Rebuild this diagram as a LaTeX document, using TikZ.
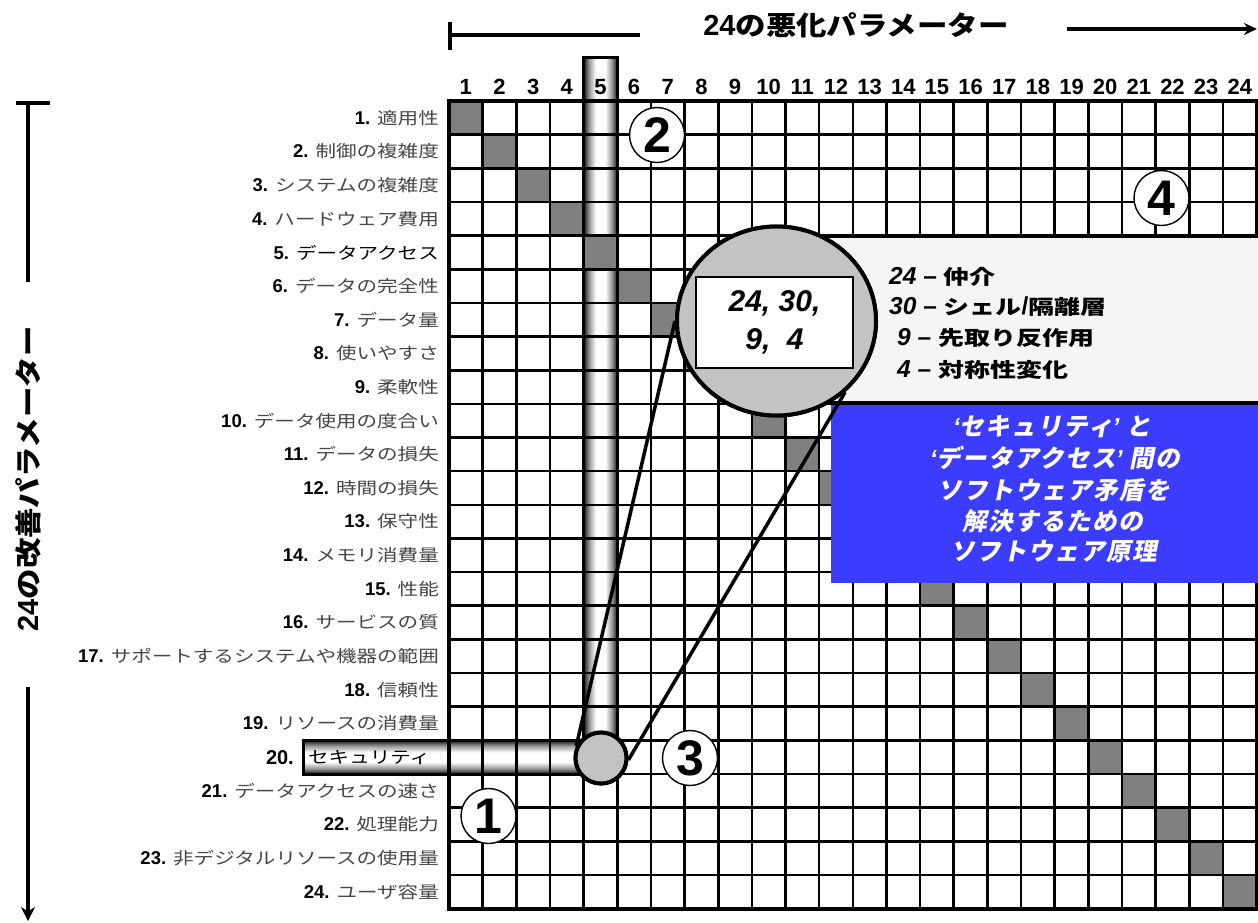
\documentclass[tikz,border=0pt]{standalone}
\usepackage{fontspec}
\setmainfont{Liberation Sans}
\newfontfamily\jp{Noto Sans CJK JP}[FakeStretch=1.23]
\newfontfamily\jpt{Noto Sans CJK JP}[FakeStretch=1.14]
\newfontfamily\jpl{Noto Sans CJK JP}[FakeStretch=1.3]
\newfontfamily\jpi{Noto Sans CJK JP}[FakeSlant=0.2,LetterSpace=6]
\usetikzlibrary{shapes.geometric,arrows.meta}
\definecolor{labgray}{RGB}{70,70,70}
\definecolor{diag}{RGB}{128,128,128}
\definecolor{halftone}{RGB}{195,195,195}
\definecolor{legendgray}{RGB}{245,245,245}
\definecolor{bluebox}{RGB}{60,60,255}
\definecolor{bardark}{RGB}{20,20,20}
\definecolor{barmid}{RGB}{150,150,150}
\pgfdeclarehorizontalshading{barshade}{100bp}{color(0bp)=(bardark); color(25bp)=(bardark); color(33bp)=(barmid); color(43bp)=(white); color(57bp)=(white); color(67bp)=(barmid); color(75bp)=(bardark); color(100bp)=(bardark)}
\newcommand{\jplab}{\fontsize{16.7}{18}\selectfont\jp}
\newcommand{\jpleg}{\fontsize{20}{22}\selectfont\jpl}
\newcommand{\jptit}{\fontsize{26.7}{28}\selectfont\jpt}
\tikzset{
  gridline/.style={line width=2.6pt},
  barline/.style={line width=3pt},
  axisline/.style={line width=4pt},
  conline/.style={line width=3.5pt},
  numcirc/.style={circle,draw,line width=1.4pt,fill=white,minimum size=55pt,inner sep=0pt,
    font=\fontsize{50}{50}\selectfont\bfseries},
  rowlab/.style={anchor=east,inner sep=0pt,font=\fontsize{18.5}{19}\selectfont},
  collab/.style={inner sep=0pt,font=\fontsize{22}{22}\selectfont\bfseries},
  legtext/.style={anchor=west,inner sep=0pt,font=\fontsize{24.5}{25}\selectfont\bfseries},
  bluetext/.style={inner sep=0pt,text=white,text height=18pt,text depth=4pt,font=\fontsize{24.5}{25}\selectfont\bfseries},
  axtitle/.style={inner sep=0pt,font=\fontsize{29}{29}\selectfont\bfseries},
}
\begin{document}
\begin{tikzpicture}[x=1pt,y=-1pt]
\useasboundingbox (0,0) rectangle (1258,922);
\fill[white] (0,0) rectangle (1258,922);
% bars (shading)
\shade[shading=barshade] (583.6,57) rectangle (617.3,758);
\shade[shading=barshade,shading angle=90] (303,740.35) rectangle (601,774);
% diagonal cells
\foreach \i in {1,...,24}
  \fill[diag] ({449+(\i-1)*33.65},{101+(\i-1)*33.65}) rectangle ++(33.65,33.65);
% grid lines
\foreach \k in {1,...,23}{
  \draw[gridline] ({449+\k*33.65},101) -- ++(0,807.6);
  \draw[gridline] (449,{101+\k*33.65}) -- ++(807.6,0);
}
\draw[line width=4pt] (449,101) rectangle (1256.6,908.6);
% bar outlines
\draw[barline] (583.6,758) -- (583.6,57) -- (617.3,57) -- (617.3,758);
\draw[barline] (601,740.35) -- (303,740.35) -- (303,774) -- (601,774);
% legend box and blue box
\fill[legendgray] (780,236) rectangle (1258,403);
\draw[line width=3.5pt] (780,236) -- (1258,236);
\draw[line width=3.5pt] (780,403) -- (1258,403);
\fill[bluebox] (831,405) rectangle (1258,583);
% magnifier
\node[circle,draw,line width=4pt,fill=halftone,minimum size=51pt,inner sep=0pt] (sc) at (601,758) {};
\node[ellipse,draw,line width=4pt,fill=halftone,minimum width=199pt,minimum height=189pt,inner sep=0pt] (bc) at (776.5,321) {};
\draw[conline] (sc.154) -- (bc.180);
\draw[conline] (sc.-4) -- (bc.-46);
\node[ellipse,draw,line width=4pt,fill=halftone,minimum width=199pt,minimum height=189pt,inner sep=0pt] (bc2) at (776.5,321) {};
\node[circle,draw,line width=4pt,fill=halftone,minimum size=51pt,inner sep=0pt] (sc2) at (601,758) {};
\node[draw,line width=2pt,fill=white,minimum width=157pt,minimum height=91pt,inner sep=0pt,align=center,
  font=\fontsize{30}{38}\selectfont\bfseries\itshape] (ib) at (774.5,322.5) {24, 30,\\9,\ \ 4};
% numbered circles
\node[numcirc] (n1) at (488.5,816) {1};
\node[numcirc] (n2) at (657,135) {2};
\node[numcirc] (n3) at (690,758) {3};
\node[numcirc] (n4) at (1161.5,198) {4};
% legend text
\node[legtext] (l1) at (889,277) {{\itshape 24} – {\jpleg 仲介}};
\node[legtext] (l2) at (889,307) {{\itshape 30} – {\jpleg シェル}/{\jpleg 隔離層}};
\node[legtext] (l3) at (897,338) {{\itshape 9} – {\jpleg 先取り反作用}};
\node[legtext] (l4) at (897,370) {{\itshape 4} – {\jpleg 対称性変化}};
% blue text
\node[bluetext] (b1) at (1052,428) {{\itshape ‘}{\jpi セキュリティ}{\itshape ’}\hspace{7pt}{\jpi と}};
\node[bluetext] (b2) at (1055,460) {{\itshape ‘}{\jpi データアクセス}{\itshape ’}\hspace{7pt}{\jpi 間の}};
\node[bluetext] (b3) at (1054,492) {\jpi ソフトウェア矛盾を};
\node[bluetext] (b4) at (1053,523) {\jpi 解決するための};
\node[bluetext] (b5) at (1054,553) {\jpi ソフトウェア原理};
% column headers
\foreach \i in {1,...,24}
  \node[collab] (h\i) at ({449+(\i-0.5)*33.65},87) {\i};
% row labels
\foreach \i/\t in {1/適用性,2/制御の複雑度,3/システムの複雑度,4/ハードウェア費用,6/データの完全性,7/データ量,8/使いやすさ,9/柔軟性,10/データ使用の度合い,11/データの損失,12/時間の損失,13/保守性,14/メモリ消費量,15/性能,16/サービスの質,17/サポートするシステムや機器の範囲,18/信頼性,19/リソースの消費量,21/データアクセスの速さ,22/処理能力,23/非デジタルリソースの使用量,24/ユーザ容量}
  \node[rowlab] (r\i) at (439,{101+(\i-0.5)*33.65}) {{\bfseries\i.}\hspace{7pt}{\jplab\color{labgray}\t}};
\node[rowlab] (r5) at (439,{101+4.5*33.65}) {{\bfseries 5.}\hspace{7pt}{\jplab データアクセス}};
\node[rowlab] (r20) at (294,757.2) {\fontsize{20}{20}\selectfont\bfseries 20.};
\node[anchor=west,inner sep=0pt] (r20t) at (308,757.2) {\jplab セキュリティ};
% axis titles
\node[axtitle] (title) at (856,25) {24{\jptit の悪化パラメーター}};
\node[axtitle,rotate=90] (vtitle) at (28,479) {24{\jptit の改善パラメーター}};
% axis arrows
\coordinate (ta) at (450,35); \coordinate (tb) at (640,35);
\coordinate (tk1) at (450,22); \coordinate (tk2) at (450,50);
\draw[axisline] (ta) -- (tb);
\draw[axisline] (tk1) -- (tk2);
\coordinate (tra) at (1067,29); \coordinate (trb) at (1257,29);
\draw[axisline,-{Stealth[length=13pt,width=12pt]}] (tra) -- (trb);
\coordinate (la) at (28,103); \coordinate (lb) at (28,282);
\coordinate (lk1) at (16,103); \coordinate (lk2) at (50,103);
\draw[axisline] (la) -- (lb);
\draw[axisline] (lk1) -- (lk2);
\coordinate (lc) at (28,687); \coordinate (ld) at (28,921);
\draw[axisline,-{Stealth[length=14pt,width=14pt]}] (lc) -- (ld);
\end{tikzpicture}
\end{document}
